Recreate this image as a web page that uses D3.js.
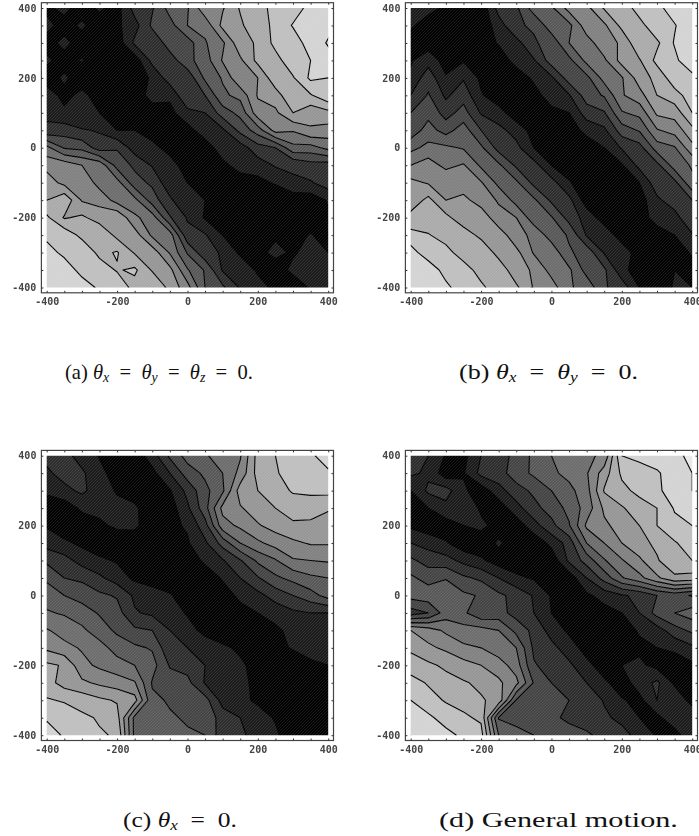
<!DOCTYPE html>
<html>
<head>
<meta charset="utf-8">
<script src="https://cdn.jsdelivr.net/npm/d3@7"></script>
<style>
  html, body { margin: 0; padding: 0; background: #fff; }
  svg { display: block; }
</style>
</head>
<body>
<svg id="chart"></svg>
<script>
// grid axis values, one row per y from 400 down to -400
const gridX = d3.range(-400, 401, 50);
const gridY = d3.range(400, -401, -50);
const tickLabels = [-400, -200, 0, 200, 400];
const minorTicks = d3.range(-400, 401, 50);
const levels = d3.range(0, 12);

const valuesA = [
  [.8,1.3,.5,1.2,.6,2.4,2.9,4.4,4.9,6.7,6.9,8.1,8.3,9.6,9.4,10.4,10.2],
  [1.3,.6,1.2,.4,.8,1.6,3.2,3.6,5,5.3,7.3,7.8,8.8,9.1,10.1,10.1,10.3],
  [.6,1.3,.5,.9,.4,2.2,2.2,3.5,3.5,4.9,5.8,7.7,8.1,9.3,9.3,10.6,9.9],
  [1.2,.6,1.1,.3,.9,.4,2.3,2.5,3.7,4.5,6.1,6.8,8.3,8.6,9.7,10,10.4],
  [.5,1.2,.4,.8,.3,.3,1.2,2.5,2.3,4.2,5.1,6.9,7,8.7,8.9,10.2,10],
  [1.5,.7,1.3,.5,.4,.4,1.4,1.2,2.9,3,4.8,5.3,7.1,7.5,8.9,8.9,9.8],
  [1.8,1.2,1,1,.6,.5,.5,.7,1.7,2,3.5,4.3,6.6,6.8,8,7.3,7.7],
  [2.2,2.5,2.1,1.9,1,1,.4,.5,.6,1.6,1.8,3.3,4.5,6.4,6.1,6.9,6.6],
  [5.3,3.9,3.7,2.5,2.9,1.5,1.4,.5,.5,.4,1.6,1.5,2.6,3,4.7,4.6,5.3],
  [6.7,6.6,6,5.7,3.6,2.8,1.9,1.6,.3,.7,.7,1.5,1.5,2.1,2.1,2.6,2.5],
  [7.5,6.7,6.8,5.6,5.4,3.4,2.8,1.3,1,.3,.4,.4,.7,1.1,1.9,1.9,2.5],
  [8,8.8,6.9,6.7,5.6,5.3,3.5,2.2,1,1,.3,.3,.3,.3,.3,.4,1.1],
  [9.2,7.9,8.2,7.5,7.9,6.2,5.5,3.1,1.9,.9,.5,.3,.6,.3,.3,.3,.8],
  [9.7,9.7,8.7,8.9,7.7,7.5,5.8,5.5,2.3,2.1,1,.5,.3,.9,.5,1.1,.4],
  [10.5,9.7,9.9,8.7,9.1,7.9,7.6,5.9,3.9,2.3,1.9,.8,.8,1.2,.9,1.3,1],
  [10,10.7,9.6,9.6,8.9,9.2,7.9,7.3,5.1,3.9,1.9,1.9,.8,.6,1.2,1.3,1.2],
  [10.7,10.5,10.6,9.8,9.8,8.6,9,7.7,6.4,4,3.2,1.9,1.5,.7,.5,1.1,1.3]
];

const valuesB = [
  [1.2,1.4,.8,.6,.3,2.4,2.8,4.5,4.8,6.4,6.7,8.1,8.3,9.5,9.6,10.7,10.6],
  [1.2,.4,.9,.6,.3,1.5,2.9,3.1,4.6,4.7,6.6,6.8,8.3,8.6,9.8,9.9,11],
  [.5,.5,.4,1,.4,1.1,1.6,2.9,3.3,5,5.5,6.7,7.1,8.9,8.8,10.1,10.4],
  [.9,1.6,.6,.9,.3,.4,1.4,1.9,3.5,3.7,5.3,5.8,7.4,7.9,9.3,9.7,11],
  [1.2,2.6,1.1,1.9,.8,.3,.4,1.2,1.8,3.5,3.7,5.4,5.9,7.5,8.3,9.6,9.6],
  [2,3.1,1.8,2.6,1.1,.4,.3,.6,1.5,1.9,3.5,4.1,5.9,6.6,8,8.6,9.5],
  [3,3.7,2.6,3.4,1.9,1.4,.4,.3,.7,1,2.5,2.9,4.9,5.3,7.2,7.4,9],
  [3.4,4.4,3.6,4.5,3,2.3,1.6,.6,.3,.5,1.3,1.8,3.5,4.1,5.9,6.4,7.7],
  [4.7,5.3,5.2,4.9,4.2,2.6,2.3,1,.4,.3,.4,1,2.1,2.6,4.5,4.9,6.7],
  [6,6.5,5.7,6.1,4.8,4.2,2.8,2.4,1,.5,.3,.5,.9,2.3,2.7,4.5,5.1],
  [7.3,6.9,6.9,6.4,6.1,4.7,4.2,2.7,2.4,1.1,.4,.3,.5,1,2.6,2.7,4.8],
  [7.3,8.3,7,7.3,6.5,5.9,4.6,4.2,2.8,2.3,.5,.4,.3,.5,1.8,2.5,3],
  [8.4,8.1,8.3,7.3,7.7,6.3,6,4.4,4.1,2.6,1.6,.5,.7,.3,1.6,1.6,2.9],
  [9.3,9.1,8.4,8.6,7.7,7.6,6.3,5.8,4.5,3.9,1.9,1.7,.5,.5,.3,1,1.9],
  [10.5,9.3,9.5,8.3,8.9,7.6,7.3,5.9,5.7,4.1,3.7,1.9,1.6,.5,.5,.2,1.2],
  [10,10.8,9.5,9.7,8.4,8.7,7.3,6.9,5.6,5.2,3.6,3.2,1.3,.5,.4,1,.5],
  [10.9,10.6,10.3,9.3,9.3,8.2,8.2,6.9,6.5,5.1,4.7,3.1,2.6,1,.5,1.1,1]
];

const valuesC = [
  [2.3,2.4,1.5,.95,.5,.4,1.5,3.2,4.4,4.9,5.4,5.9,8.4,9,9.4,9.9,10.3],
  [1.8,2.4,2.2,1.2,.7,.3,.7,2,3.5,4.2,5,6.3,8.4,8.9,9.4,9.8,9.9],
  [1.2,1.7,2.2,1.5,.9,.5,.3,.9,2.3,3.7,4.8,7.5,8,8.6,9.1,9.3,9.3],
  [.4,.4,1.2,1.3,1.3,1.2,.3,.5,1.8,3.6,6.3,6.9,7.5,8,8.5,8.2,8.1],
  [.9,.4,.4,.8,1.2,1.2,.4,.8,1.1,2.6,5.6,6.2,6.9,7.4,7.8,7.9,7.6],
  [1.6,1.2,.8,.4,.3,.4,.9,.3,.9,1.8,3.4,5,5.8,6.4,6.8,7.1,7.1],
  [2.8,2.4,1.6,1.2,.9,.5,.3,.3,.4,1.2,1.9,2.9,4.2,4.9,5.9,6,6.1],
  [3.8,3,2.8,2.2,1.5,.8,.5,.4,.3,.4,1.1,2,2.9,3.8,4.3,4.8,5],
  [4.6,4,3.6,3.2,2.9,1.8,1.5,1.1,.4,.3,.6,1.2,1.7,2.4,3,3.6,4.4],
  [5.1,4.9,4.5,3.9,3.4,2.1,1.8,1.5,.9,.3,.3,.7,1,1.4,1.8,2,2],
  [6.1,5.6,5.2,4.5,3.8,3.2,3,2,1.4,.7,.3,.3,.4,.8,1.3,1.5,1.8],
  [6.8,6.3,5.9,5.4,4.6,4.2,3.9,2.2,2,1.6,1.2,.8,.4,.7,1.1,1.6,1.4],
  [8.2,7.9,6.3,5.8,5.4,5,4.4,2.9,2.6,2,1.6,1.2,.6,.3,.3,.7,1],
  [8.4,7.6,7.2,6.8,6.5,6.1,3.9,3.5,3.3,1.9,1.5,1.3,.7,.3,.3,.3,.3],
  [9.1,8.9,8.6,8.2,7.9,7.4,4.2,3.9,3.7,3.4,1.6,1.3,.8,.3,.3,.3,.3],
  [9.9,9.6,9.2,8.9,8.4,4.7,4.3,4.1,3.9,3.8,2.5,2,1.5,.9,.3,.3,.3],
  [10.4,9.9,9.5,9.1,8.9,4.7,4.5,4.3,4.1,4,2.4,2.1,1.8,1.2,.3,.3,.3]
];

const valuesD = [
  [2.6,2,.9,.7,2,2.4,3.4,4.2,5,5.4,5.8,6.2,10,10.3,10.4,10.8,11.2],
  [2.2,1.8,.4,.9,2.3,2.6,3.5,4.2,4.8,5.3,5.9,7.5,9.2,9.5,9.9,10.4,11],
  [1,2.2,2.4,1.2,.4,1.6,2.6,3.2,4,4.7,5.6,8.1,8.7,9.3,9.8,10.5,11],
  [.4,1,1.7,2,.8,.4,1.6,2.7,3.4,4.3,5.4,7.2,7.9,8.5,9,10.1,10.6],
  [.8,.4,.5,1,1.3,.5,.4,1.6,2.7,3.9,6.2,6.8,7.4,8,9,9.7,10],
  [2,1.6,1.1,.4,.3,1.2,.4,.3,1.3,2.4,5,6,7,7.7,8.2,8.9,9.5],
  [3.2,2.6,2.4,1.7,1.2,.5,.4,.3,.3,2.2,3.4,4.9,5.9,6.8,7.9,8.7,9],
  [4.2,3.6,3.9,3.2,2.8,2,1.2,.9,.4,.4,2,3.4,4.9,5.7,6.8,7.8,7.6],
  [4.4,4.6,5,4.2,3.9,3.2,2.7,1.9,.9,.3,.8,1.4,1.9,2.2,3,3.4,2.9],
  [2.5,3,4.5,4.2,3.2,3.4,2.6,2,1,.3,.4,.6,1,2,3.4,4,4.5],
  [7,6.5,5.8,5.4,5.4,5,3.7,2.7,1.6,.8,.3,.4,.6,1.1,1.5,2.6,3.2],
  [7.8,7.2,6.8,6.2,6,5.4,5,2.8,2.3,1.5,.6,.4,.9,.8,1,1.2,1.8],
  [8.5,8.2,7.8,7.4,7,6.5,5.5,3.1,2.6,2.2,1.3,.5,1,1.2,.7,.5,.8],
  [9.4,8.9,8.4,8.1,7.8,7.2,6.3,3.9,3,2.8,2,1.2,.5,1.5,2.2,.8,.3],
  [10,9.4,8.9,8.6,8.1,7.7,3.9,3.6,3.2,3,2.8,1.9,1.1,.7,2,1.8,.6],
  [10.6,10.2,9.6,9.2,8.8,3.9,3.6,3.3,3.1,2.9,2.7,2.2,1.7,1,.7,1.8,1.9],
  [11,10.8,10.3,9.8,9.4,5,4.4,4,3.6,3.2,3.1,2.8,2.4,1.6,.9,.5,1.9]
];

// caption pieces: [text, kind] where kind is r (roman), i (italic) or s (subscript)
const captionA = [["(a) ", "r"], ["θ", "i"], ["x", "s"], ["\u2002=\u2002", "r"], ["θ", "i"], ["y", "s"], ["\u2002=\u2002", "r"], ["θ", "i"], ["z", "s"], ["\u2002=\u20020.", "r"]];
const captionB = [["(b) ", "r"], ["θ", "i"], ["x", "s"], ["\u2002=\u2002", "r"], ["θ", "i"], ["y", "s"], ["\u2002=\u20020.", "r"]];
const captionC = [["(c) ", "r"], ["θ", "i"], ["x", "s"], ["\u2002=\u20020.", "r"]];
const captionD = [["(d) General motion.", "r"]];

const width = 699, height = 836;

const svg = d3.select("#chart")
    .attr("width", width)
    .attr("height", height);

const defs = svg.append("defs");

// the fine diagonal hatching the scan shows over the grey bands
const hatch = defs.append("pattern")
    .attr("id", "hatch")
    .attr("width", 3)
    .attr("height", 3)
    .attr("patternUnits", "userSpaceOnUse");
hatch.append("path")
    .attr("d", "M0,3L3,0M-1,1L1,-1M2,4L4,2")
    .attr("stroke", "#fff")
    .attr("stroke-opacity", 0.09)
    .attr("stroke-width", 1);

defs.append("filter")
    .attr("id", "soft")
    .append("feGaussianBlur")
    .attr("stdDeviation", 0.35);

const grey = k => d3.rgb(...Array(3).fill(Math.min(245, 6 + k * 20.5))).formatHex();

function drawPanel(values, id, left, top) {
    const g = svg.append("g").attr("id", id);
    const right = left + 281.5, bottom = top + 279.5;

    const x = d3.scaleLinear().domain([-400, 400]).range([left, right]);
    const y = d3.scaleLinear().domain([-400, 400]).range([bottom, top]);

    // contour coordinates put each value at the middle of its cell
    const gx = d3.scaleLinear().domain([0.5, gridX.length - 0.5]).range([x(gridX[0]), x(gridX[gridX.length - 1])]);
    const gy = d3.scaleLinear().domain([0.5, gridY.length - 0.5]).range([y(gridY[0]), y(gridY[gridY.length - 1])]);

    const path = d3.geoPath(d3.geoTransform({
        point(px, py) { this.stream.point(gx(px), gy(py)); }
    }));

    const contours = d3.contours()
        .size([gridX.length, gridY.length])
        .thresholds(levels)(values.flat());

    g.append("clipPath")
        .attr("id", id + "-clip")
        .append("rect")
        .attr("x", left)
        .attr("y", top)
        .attr("width", right - left)
        .attr("height", bottom - top);

    const plot = g.append("g")
        .attr("clip-path", "url(#" + id + "-clip)")
        .attr("filter", "url(#soft)");

    plot.selectAll("path.band")
        .data(contours)
        .enter()
        .append("path")
        .attr("class", "band")
        .attr("d", path)
        .attr("fill", d => grey(d.value))
        .attr("stroke", "#000")
        .attr("stroke-width", d => d.value === 0 ? 0 : 1.1)
        .attr("stroke-linejoin", "round");

    plot.append("rect")
        .attr("x", left)
        .attr("y", top)
        .attr("width", right - left)
        .attr("height", bottom - top)
        .attr("fill", "url(#hatch)");

    // frame sits a few pixels outside the plotted area
    const pad = 5.3;
    g.append("rect")
        .attr("x", left - pad)
        .attr("y", top - pad)
        .attr("width", right - left + 2 * pad)
        .attr("height", bottom - top + 2 * pad)
        .attr("fill", "none")
        .attr("stroke", "#444")
        .attr("stroke-width", 1.2);

    const axes = [
        [d3.axisBottom(x), "translate(0," + (bottom + pad) + ")", true],
        [d3.axisLeft(y), "translate(" + (left - pad) + ",0)", true],
        [d3.axisTop(x), "translate(0," + (top - pad) + ")", false],
        [d3.axisRight(y), "translate(" + (right + pad) + ",0)", false]
    ];
    axes.forEach(([axis, transform, labelled]) => {
        const a = g.append("g").attr("transform", transform);
        a.call(axis.tickValues(minorTicks).tickSize(-2).tickPadding(labelled ? 5 : 0)
            .tickFormat(d => labelled && tickLabels.includes(d) ? d3.format("d")(d).replace("−", "-") : ""));
        a.select(".domain").remove();
        a.selectAll(".tick line").attr("stroke", "#333").attr("stroke-width", 1);
        a.selectAll("text")
            .attr("font-family", "'DejaVu Sans Mono', monospace")
            .attr("font-size", 10)
            .attr("font-weight", "bold")
            .attr("fill", "#444");
        a.attr("filter", "url(#soft)");
    });
}

// pieces are laid out one after the other, then the group is stretched to the caption's width
function drawCaption(pieces, left, baseline, span) {
    const g = svg.append("g");
    const text = g.append("text")
        .attr("font-family", "'Liberation Serif', serif")
        .attr("font-size", 21)
        .attr("fill", "#111")
        .style("white-space", "pre");
    let lowered = false;
    pieces.forEach(([t, kind]) => {
        const s = text.append("tspan").text(t);
        if (kind === "i") s.attr("font-style", "italic");
        if (kind === "s") {
            s.attr("font-style", "italic").attr("font-size", 14).attr("dy", 3);
            lowered = true;
        } else if (lowered) {
            s.attr("dy", -3);
            lowered = false;
        }
    });
    const natural = text.node().getComputedTextLength();
    g.attr("transform", "translate(" + left + "," + baseline + ") scale(" + span / natural + ",1)");
}

drawPanel(valuesA, "panel-a", 46.7, 8);
drawPanel(valuesB, "panel-b", 410.7, 8);
drawPanel(valuesC, "panel-c", 46.7, 455.7);
drawPanel(valuesD, "panel-d", 410.7, 455.7);

drawCaption(captionA, 65, 379, 188);
drawCaption(captionB, 459, 379, 179);
drawCaption(captionC, 123, 827, 114);
drawCaption(captionD, 439, 827, 239);
</script>
</body>
</html>
